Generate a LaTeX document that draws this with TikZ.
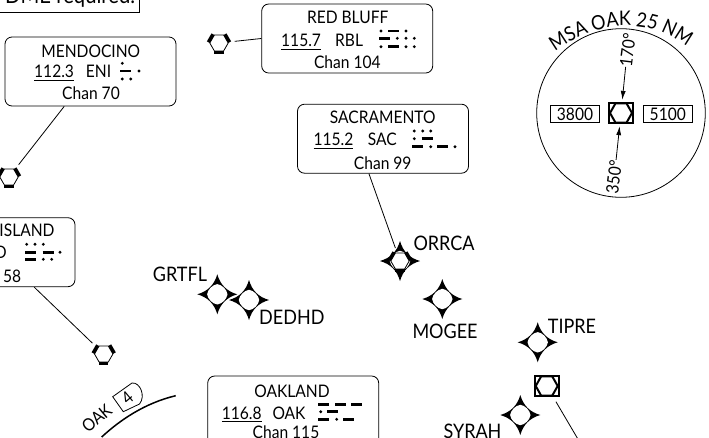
\documentclass[tikz,border=0pt]{standalone}
\usepackage{fontspec}
\setmainfont{Lato}[FakeStretch=0.9]
\usetikzlibrary{decorations.text, arrows.meta}
\newcommand{\freq}[1]{\vtop{\hbox{#1}\kern2.2pt\hrule height 0.9pt}}
\tikzset{
    boxlabel/.style={inner sep=0pt, font=\fontsize{17.3}{20}\selectfont},
    fixlabel/.style={inner sep=0pt, font=\fontsize{20}{22}\selectfont},
    navbox/.style={draw, line width=0.8pt, rounded corners=7pt, inner sep=0pt, minimum width=171pt, minimum height=69pt},
    navspot/.style={circle, inner sep=0pt, minimum size=31pt},
    minbox/.style={draw, line width=0.8pt, inner sep=0pt, minimum width=49pt, minimum height=17pt, font=\fontsize{17.3}{20}\selectfont},
    morsedash/.style={line width=2.6pt},
    conn/.style={line width=0.8pt},
    bearing/.style={line width=0.8pt, -{Latex[length=9pt, width=5pt]}},
    vortac/.pic={
        \draw[line width=0.8pt] (-9.2,0) -- (-4.6,-8) -- (4.6,-8) -- (9.2,0) -- (4.6,8) -- (-4.6,8) -- cycle;
        \foreach \r in {0,120,240}
            \fill[rotate=\r] (-4.6,8) rectangle (4.6,11.3);
    },
    vordme/.pic={
        \draw[line width=2pt] (-12,-9.7) rectangle (12,9.7);
        \draw[line width=2pt] (-11,0) -- (-5.5,-9.7) -- (5.5,-9.7) -- (11,0) -- (5.5,9.7) -- (-5.5,9.7) -- cycle;
    },
    fixstar/.pic={
        \fill (0,-20) .. controls (3,-9.5) and (9.5,-3) .. (20,0)
            .. controls (9.5,3) and (3,9.5) .. (0,20)
            .. controls (-3,9.5) and (-9.5,3) .. (-20,0)
            .. controls (-9.5,-3) and (-3,-9.5) .. (0,-20) -- cycle;
        \fill[white] (0,-10.2) .. controls (4.8,-9.5) and (9.5,-4.8) .. (10.2,0)
            .. controls (9.5,4.8) and (4.8,9.5) .. (0,10.2)
            .. controls (-4.8,9.5) and (-9.5,4.8) .. (-10.2,0)
            .. controls (-9.5,-4.8) and (-4.8,-9.5) .. (0,-10.2) -- cycle;
    },
}
\begin{document}
\begin{tikzpicture}[x=1pt, y=-1pt]
    \useasboundingbox (0,0) rectangle (709,437);
    \clip (0,0) rectangle (709,437);

    % Note at the top
    \node[draw, line width=0.8pt, inner sep=0pt, minimum width=190pt, minimum height=40pt, anchor=south east] (dmenote) at (140,12.5) {};
    \node[boxlabel, anchor=base west, font=\fontsize{22.5}{24}\selectfont] (dmetext) at (5,3.7) {DME required.};

    % Frequency boxes
    \node[navbox] (mendocino) at (90.5,71.5) {};
    \node[navbox] (redbluff) at (347.2,38.5) {};
    \node[navbox] (sacramento) at (383,138.7) {};
    \node[navbox] (island) at (-10.5,252.2) {};
    \node[navbox] (oakland) at (293.2,410.5) {};

    \node[boxlabel, anchor=base] (mendocinoname) at (90.7,57) {MENDOCINO};
    \node[boxlabel, anchor=base west] (mendocinofreq) at (34,77.2) {\freq{112.3}};
    \node[boxlabel, anchor=base west] (mendocinoid) at (85.7,77.2) {ENI};
    \node[boxlabel, anchor=base] (mendocinochan) at (91,99.5) {Chan 70};

    \node[boxlabel, anchor=base] (redbluffname) at (347.7,23) {RED BLUFF};
    \node[boxlabel, anchor=base west] (redblufffreq) at (281,46.2) {\freq{115.7}};
    \node[boxlabel, anchor=base west] (redbluffid) at (335,46.2) {RBL};
    \node[boxlabel, anchor=base] (redbluffchan) at (347.3,68.5) {Chan 104};

    \node[boxlabel, anchor=base] (sacramentoname) at (382.7,123) {SACRAMENTO};
    \node[boxlabel, anchor=base west] (sacramentofreq) at (313.3,145.2) {\freq{115.2}};
    \node[boxlabel, anchor=base west] (sacramentoid) at (367.7,145.2) {SAC};
    \node[boxlabel, anchor=base] (sacramentochan) at (382.7,169.5) {Chan 99};

    \node[boxlabel, anchor=base] (islandname) at (27,236.2) {ISLAND};
    \node[boxlabel, anchor=base east] (islandid) at (7,258.2) {D};
    \node[boxlabel, anchor=base west] (islandchan) at (3,282.2) {58};

    \node[boxlabel, anchor=base] (oaklandname) at (292,397.2) {OAKLAND};
    \node[boxlabel, anchor=base west] (oaklandfreq) at (221.7,419) {\freq{116.8}};
    \node[boxlabel, anchor=base west] (oaklandid) at (272.3,419) {OAK};
    \node[boxlabel, anchor=base] (oaklandchan) at (286,438) {Chan 115};

    % Morse code dots
    \foreach \x/\y in {122.3/63.3, 139/71, 122.3/79, 130.7/79,
            381/31, 406/31, 397.3/38.3, 406/38.3, 414.3/38.3, 381/46.7, 406/46.7, 414.3/46.7,
            414.3/131, 422.7/131, 430.7/131, 414.3/138.7, 430.7/146.7, 455/146.7,
            26.7/244.3, 35/244.3, 43.3/244.3, 60/252.3, 43.3/259.3, 51.7/259.3,
            320.7/411.7, 336.7/419.3}
        \fill (\x,\y) circle (1.6);
    % Morse code dashes
    \foreach \x/\y in {120/71,
            388.3/31, 379/38.3, 388.3/46.7,
            421.7/138.7, 412.3/146.7, 437.3/146.7,
            25/252.3, 42.7/252.3, 25/259.3,
            318.3/404.3, 335/404.3, 351/404.3, 327.3/411.7, 318.3/419.3, 343.3/419.3}
        \draw[morsedash] (\x,\y) -- ++(11,0);

    % Stations
    \node[navspot] (enihex) at (9,177) {};
    \node[navspot] (rblhex) at (219,43) {};
    \node[navspot] (islandhex) at (103.7,354) {};
    \pic at (enihex) {vortac};
    \pic at (rblhex) {vortac};
    \pic at (islandhex) {vortac};

    % Fixes
    \node[navspot] (grtfl) at (217.3,294.3) {};
    \node[navspot] (dedhd) at (249,300) {};
    \node[navspot, minimum size=27pt] (orrca) at (400,261) {};
    \node[navspot] (mogee) at (442.3,299) {};
    \node[navspot] (tipre) at (537.7,342.3) {};
    \node[navspot] (syrah) at (520.3,415) {};
    \foreach \f in {grtfl,dedhd,orrca,mogee,tipre,syrah}
        \pic at (\f) {fixstar};
    \pic at (orrca) {vortac};

    \node[fixlabel, anchor=base west] (grtfllabel) at (152.7,281) {GRTFL};
    \node[fixlabel, anchor=base west] (dedhdlabel) at (259,324.5) {DEDHD};
    \node[fixlabel, anchor=base west] (orrcalabel) at (413.3,250.5) {ORRCA};
    \node[fixlabel, anchor=base west] (mogeelabel) at (412.3,338.3) {MOGEE};
    \node[fixlabel, anchor=base west] (tiprelabel) at (547.7,333.3) {TIPRE};
    \node[fixlabel, anchor=base west] (syrahlabel) at (443.3,438) {SYRAH};

    % Oakland station
    \node[navspot, minimum size=36pt] (oakhex) at (546.7,386) {};
    \pic at (oakhex) {vordme};
    \coordinate (oakend) at (582,446);

    % Connectors
    \draw[conn] (mendocino.233) -- (enihex);
    \draw[conn] (redbluff.west) -- (rblhex);
    \draw[conn] (island.-38) -- (islandhex);
    \draw[conn] (sacramento.-112) -- (orrca);
    \draw[conn] (oakhex) -- (oakend);

    % Altitude ring
    \draw[line width=0.8pt] (621,113) circle (84.3);
    \path[decorate, decoration={text along path, text align=center, text color=black,
            text={|\fontsize{20}{22}\selectfont|MSA OAK 25 NM}}]
        (554,52) .. controls (600,18) and (650,18) .. (688,47);
    \node[navspot, minimum size=26pt] (msahex) at (621,113) {};
    \pic at (msahex) {vordme};
    \node[minbox] (msawest) at (575,114) {3800};
    \node[minbox] (msaeast) at (667.8,114) {5100};
    \node[boxlabel, rotate=83] (msanorth) at (627.7,50) {170°};
    \node[boxlabel, rotate=83] (msasouth) at (614,176.7) {350°};
    \draw[bearing] (msanorth.west) -- (msahex);
    \draw[bearing] (msasouth.east) -- (msahex);

    % Minimum altitude arc
    \draw[line width=1.5pt] (101.7,437) .. controls (120,420) and (145,403) .. (175.7,395.7);
    \draw[line width=0.8pt] (112.7,396.7) -- (132,383) .. controls (140,382) and (146,396) .. (139.5,404) -- (123.3,411.7) -- cycle;
    \node[boxlabel, rotate=40] (arclabel) at (96.7,418.3) {OAK};
    \node[boxlabel, rotate=40] (arcnum) at (127.3,398.3) {4};
\end{tikzpicture}
\end{document}
